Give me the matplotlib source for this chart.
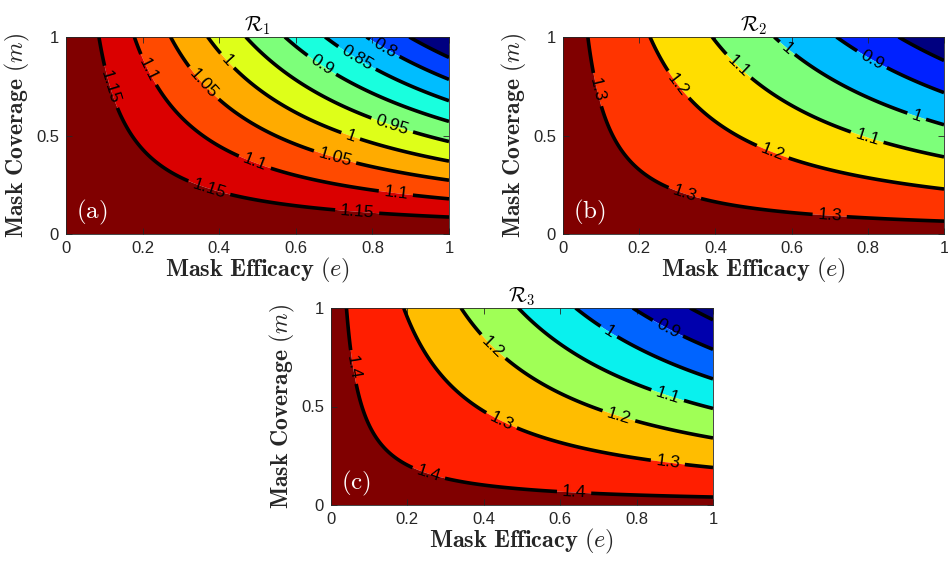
import numpy as np
import matplotlib
matplotlib.use("Agg")
import matplotlib.pyplot as plt

plt.rcParams["mathtext.fontset"] = "cm"
plt.rcParams["font.family"] = ["Liberation Sans", "DejaVu Sans"]

# Reproduction number of each model as a function of the combined
# protection x = e*m :  R(x) = c0 + c1*x + c2*x**2
r1_coef = [1.1975, -0.558, 0.0656]
r2_coef = [1.340, -0.613, 0.0]
r3_coef = [1.427, -0.667, 0.0]

# contour levels drawn in each panel
r1_levels = [0.75, 0.8, 0.85, 0.9, 0.95, 1.0, 1.05, 1.1, 1.15]
r2_levels = [0.8, 0.9, 1.0, 1.1, 1.2, 1.3]
r3_levels = [0.8, 0.9, 1.0, 1.1, 1.2, 1.3, 1.4]

titles = [r"$\mathcal{R}_1$", r"$\mathcal{R}_2$", r"$\mathcal{R}_3$"]
tags = ["(a)", "(b)", "(c)"]

# ---- layout / style ------------------------------------------------------
W, H = 948, 563
axes_px = [(66, 37, 383, 197), (563, 37, 381, 197), (331, 308, 382, 197)]

# position of each filled band in the jet colour map (low -> high)
band_pos = [
    [0.0, 0.19, 0.31, 0.38, 0.5, 0.62, 0.73, 0.83, 0.92, 1.0],
    [0.0, 0.16, 0.31, 0.5, 0.675, 0.855, 1.0],
    [0.0, 0.04, 0.225, 0.36, 0.545, 0.71, 0.875, 1.0],
]

# where the inline value labels sit: (level, e, m)
label_spots = [
    [(1.15, 0.107, 0.741), (1.1, 0.20, 0.82), (1.05, 0.345, 0.74), (1.0, 0.41, 0.86),
     (0.9, 0.655, 0.82), (0.85, 0.74, 0.83), (0.8, 0.81, 0.87), (0.95, 0.846, 0.52),
     (1.0, 0.74, 0.48), (1.05, 0.70, 0.375), (1.1, 0.49, 0.35), (1.1, 0.86, 0.19),
     (1.15, 0.37, 0.21), (1.15, 0.76, 0.107)],
    [(1.3, 0.084, 0.73), (1.2, 0.29, 0.74), (1.1, 0.45, 0.83), (1.3, 0.32, 0.21),
     (1.0, 0.585, 0.935), (0.9, 0.807, 0.873), (1.0, 0.927, 0.59), (1.1, 0.796, 0.477),
     (1.2, 0.54, 0.365), (1.3, 0.70, 0.096)],
    [(1.4, 0.042, 0.695), (1.2, 0.416, 0.787), (1.0, 0.725, 0.873), (0.9, 0.88, 0.89),
     (1.1, 0.88, 0.55), (1.3, 0.43, 0.365), (1.2, 0.75, 0.43), (1.3, 0.88, 0.19),
     (1.4, 0.25, 0.127), (1.4, 0.636, 0.05)],
]

coefs = [r1_coef, r2_coef, r3_coef]
levels_all = [r1_levels, r2_levels, r3_levels]

e = np.linspace(0, 1, 301)
m = np.linspace(0, 1, 301)
E, M = np.meshgrid(e, m)
X = E * M

jet = plt.get_cmap("jet")
axis_col = (0.15, 0.15, 0.15)

fig = plt.figure(figsize=(W / 100, H / 100), dpi=100)

for k in range(3):
    x0, y0, w, h = axes_px[k]
    ax = fig.add_axes([x0 / W, 1 - (y0 + h) / H, w / W, h / H])
    c = coefs[k]
    Z = c[0] + c[1] * X + c[2] * X ** 2
    lev = levels_all[k]
    bounds = [Z.min() - 0.01] + lev + [Z.max() + 0.01]
    colors = [jet(p) for p in band_pos[k]]
    ax.contourf(E, M, Z, levels=bounds, colors=colors, antialiased=True)

    # one line set per level so each label snaps to its own contour
    for lv in lev:
        cs = ax.contour(E, M, Z, levels=[lv], colors="k", linewidths=2.6)
        spots = [(pe, pm) for (l2, pe, pm) in label_spots[k] if abs(l2 - lv) < 1e-9]
        if spots:
            ax.clabel(cs, manual=spots, inline=True, inline_spacing=5,
                      fmt="%g", fontsize=12.5)

    ax.set_xlim(0, 1)
    ax.set_ylim(0, 1)
    ax.set_xticks([0, 0.2, 0.4, 0.6, 0.8, 1])
    ax.set_xticklabels(["0", "0.2", "0.4", "0.6", "0.8", "1"])
    ax.set_yticks([0, 0.5, 1])
    ax.set_yticklabels(["0", "0.5", "1"])
    ax.tick_params(direction="in", top=True, right=True, length=4, width=0.6,
                   colors=axis_col, labelsize=12, pad=5)
    for sp in ax.spines.values():
        sp.set_color(axis_col)
        sp.set_linewidth(0.6)

    ax.set_xlabel(r"$\mathbf{Mask\ Efficacy}\ (e)$", fontsize=17.5,
                  color=axis_col, labelpad=0)
    ax.set_ylabel(r"$\mathbf{Mask\ Coverage}\ (m)$", fontsize=17,
                  color=axis_col, labelpad=3)
    ax.set_title(titles[k], fontsize=15, pad=4)
    ax.text(0.025, 0.035, r"$\mathrm{" + tags[k] + "}$", transform=ax.transAxes,
            color="white", fontsize=18, ha="left", va="bottom")

fig.savefig("out.png", dpi=100)
